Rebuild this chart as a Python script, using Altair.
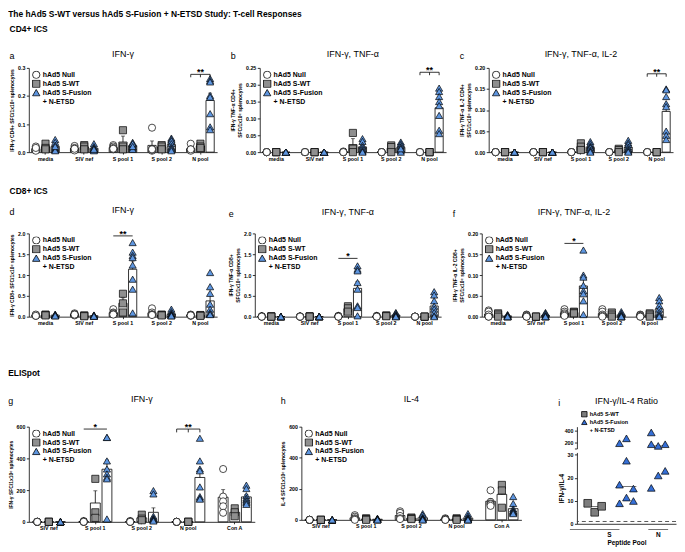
import altair as alt
import pandas as pd

FONT = "Liberation Sans"
MAIN_TITLE = "The hAd5 S-WT versus hAd5 S-Fusion + N-ETSD Study: T-cell Responses"
GROUPS = ["hAd5 Null", "hAd5 S-WT", "hAd5 S-Fusion"]
LEG_DOMAIN = GROUPS + ["+ N-ETSD"]
SHAPES = ["circle", "square", "triangle-up", "circle"]
FILLS = ["#ffffff", "#8f8f8f", "#5e96e0", "transparent"]
STROKES = ["black", "black", "black", "transparent"]
ICS_CATS = ["media", "SIV nef", "S pool 1", "S pool 2", "N pool"]
ELI_CATS = ["SIV nef", "S pool 1", "S pool 2", "N pool", "Con A"]

# ---- a: CD4+ IFN-g ----
a_null = [[0.02, 0.012, 0.008, 0.005, 0.015], [0.022, 0.015, 0.01, 0.006, 0.012],
          [0.025, 0.02, 0.015, 0.01, 0.012], [0.087, 0.01, 0.005, 0.008, 0.01],
          [0.03, 0.01, 0.008, 0.005, 0.01]]
a_wt = [[0.03, 0.015, 0.01], [0.025, 0.02, 0.01], [0.078, 0.02, 0.01], [0.025, 0.02, 0.01], [0.03, 0.02, 0.015]]
a_fus = [[0.045, 0.035, 0.025, 0.015, 0.01, 0.008, 0.005, 0.02],
         [0.03, 0.02, 0.015, 0.01, 0.008, 0.012, 0.005, 0.01],
         [0.035, 0.03, 0.025, 0.02, 0.015, 0.01, 0.03, 0.02],
         [0.05, 0.045, 0.04, 0.03, 0.02, 0.015, 0.01, 0.005],
         [0.262, 0.255, 0.25, 0.202, 0.196, 0.137, 0.09, 0.08]]
# ---- b: CD4+ IFN-g, TNF-a ----
b_null = [[0, 0, 0, 0, 0], [0, 0, 0, 0, 0], [0.002, 0, 0, 0, 0], [0, 0, 0, 0, 0], [0, 0, 0, 0, 0]]
b_wt = [[0, 0, 0], [0, 0, 0], [0.057, 0.01, 0.0], [0.02, 0.015, 0.0], [0, 0, 0]]
b_fus = [[0, 0, 0, 0, 0, 0, 0, 0], [0, 0, 0, 0, 0, 0, 0, 0],
         [0.04, 0.032, 0.02, 0.015, 0.01, 0.005, 0.002, 0.0],
         [0.03, 0.025, 0.02, 0.015, 0.01, 0.005, 0.0, 0.01],
         [0.19, 0.18, 0.165, 0.15, 0.138, 0.109, 0.065, 0.055]]
# ---- c: CD4+ IFN-g, TNF-a, IL-2 ----
c_null = [[0, 0, 0, 0, 0], [0, 0, 0, 0, 0], [0, 0, 0, 0, 0], [0, 0, 0, 0, 0], [0, 0, 0, 0, 0]]
c_wt = [[0, 0, 0], [0, 0, 0], [0.021, 0.013, 0.005], [0.008, 0.005, 0.0], [0, 0, 0]]
c_fus = [[0, 0, 0, 0, 0, 0, 0, 0], [0, 0, 0, 0, 0, 0, 0, 0],
         [0.025, 0.02, 0.015, 0.012, 0.01, 0.005, 0.002, 0.0],
         [0.028, 0.022, 0.018, 0.012, 0.008, 0.005, 0.002, 0.0],
         [0.15, 0.148, 0.132, 0.115, 0.108, 0.05, 0.04, 0.03]]
# ---- d: CD8+ IFN-g ----
d_null = [[0.03, 0.02, 0.04, 0.05, 0.02], [0.08, 0.06, 0.04, 0.03, 0.05], [0.18, 0.1, 0.08, 0.06, 0.05],
          [0.2, 0.1, 0.06, 0.05, 0.04], [0.05, 0.04, 0.03, 0.02, 0.03]]
d_wt = [[0.05, 0.04, 0.03], [0.03, 0.02, 0.01], [0.55, 0.32, 0.1], [0.05, 0.04, 0.03], [0.04, 0.03, 0.02]]
d_fus = [[0.06, 0.05, 0.04, 0.03, 0.02, 0.03, 0.04, 0.02],
         [0.04, 0.03, 0.02, 0.02, 0.01, 0.03, 0.02, 0.01],
         [1.78, 1.55, 1.47, 1.42, 1.24, 0.9, 0.66, 0.09],
         [0.18, 0.12, 0.08, 0.06, 0.04, 0.03, 0.02, 0.02],
         [1.06, 0.72, 0.56, 0.3, 0.18, 0.1, 0.06, 0.05]]
# ---- e: CD8+ IFN-g, TNF-a ----
e_null = [[0.01, 0.01, 0, 0, 0], [0.01, 0, 0, 0, 0], [0.02, 0.01, 0, 0, 0], [0.02, 0.01, 0, 0, 0], [0, 0, 0, 0, 0]]
e_wt = [[0.01, 0, 0], [0.01, 0, 0], [0.25, 0.2, 0.12], [0.03, 0.02, 0.01], [0, 0, 0]]
e_fus = [[0.01, 0, 0, 0, 0, 0, 0, 0], [0.01, 0, 0, 0, 0, 0, 0, 0],
         [1.22, 1.14, 1.1, 0.82, 0.66, 0.26, 0.22, 0.02],
         [0.1, 0.08, 0.05, 0.03, 0.02, 0.01, 0, 0],
         [0.6, 0.52, 0.38, 0.25, 0.18, 0.1, 0.02, 0]]
# ---- f: CD8+ IFN-g, TNF-a, IL-2 ----
f_null = [[0.015, 0.012, 0.005, 0, 0], [0.005, 0.004, 0.002, 0, 0], [0.018, 0.012, 0.008, 0.005, 0.002],
          [0.018, 0.012, 0.005, 0.002, 0], [0.005, 0.004, 0.002, 0, 0]]
f_wt = [[0.008, 0.005, 0], [0, 0, 0], [0.012, 0.01, 0.008], [0.01, 0.005, 0], [0.008, 0.005, 0]]
f_fus = [[0.005, 0.004, 0.003, 0.002, 0, 0, 0, 0], [0.01, 0.008, 0.005, 0.002, 0, 0, 0, 0],
         [0.16, 0.1, 0.095, 0.075, 0.062, 0.055, 0.038, 0.005],
         [0.012, 0.008, 0.005, 0.003, 0, 0, 0, 0],
         [0.046, 0.038, 0.027, 0.018, 0.01, 0.005, 0.002, 0]]
# ---- g: ELISpot IFN-g ----
g_null = [[0, 0, 0, 0, 0], [0, 5, 0, 2, 0], [0, 3, 5, 0, 0], [0, 0, 0, 0, 0], [333, 159, 129, 98, 57]]
g_wt = [[0, 0, 0], [271, 60, 25], [45, 20, 10], [0, 0, 0], [85, 60, 35]]
g_fus = [[0, 0, 0, 0, 0, 0, 0, 0], [532, 532, 384, 333, 302, 281, 271, 18],
         [197, 176, 35, 25, 18, 14, 10, 5], [527, 384, 333, 322, 220, 159, 149, 143],
         [231, 210, 165, 150, 140, 130, 120, 110]]
# ---- h: ELISpot IL-4 ----
h_null = [[0, 0, 0, 0, 0], [30, 20, 10, 5, 0], [55, 45, 25, 10, 5], [10, 5, 5, 0, 0], [190, 115, 105, 100, 90]]
h_wt = [[0, 0, 0], [10, 5, 0], [15, 10, 5], [10, 5, 0], [225, 189, 78]]
h_fus = [[0, 0, 0, 0, 0, 0, 0, 0], [10, 8, 5, 5, 3, 0, 0, 0], [40, 30, 15, 10, 5, 5, 0, 0],
         [40, 25, 15, 10, 5, 0, 0, 0], [150, 105, 70, 60, 55, 50, 45, 40]]
# ---- i: IFN-g / IL-4 ratio ----
I_COLS = ["S-WT S", "Fusion S", "Fusion N"]
i_wt_s = [8.9, 5.0, 7.6]
i_fus_s = [8.9, 11.4, 9.9, 17.0, 27.4, 15.3, 189, 272]
i_fus_n = [172, 144, 172, 15.6, 21, 23, 372]


def key(cat, grp):
    return cat + "|" + grp


def bar_panel(cats, null, wt, fus, ymax, ticks, fmt, ytitle, title, w, h, sigs, title_offset=7):
    rows = []
    for ci, c in enumerate(cats):
        for g, arr in zip(GROUPS, (null, wt, fus)):
            for v in arr[ci]:
                rows.append({"key": key(c, g), "cat": c, "grp": g, "val": v})
    df = pd.DataFrame(rows)
    # band domain: three groups per category, with one empty slot between categories
    domain = []
    for ci, c in enumerate(cats):
        if ci > 0:
            domain.append("gap " + str(ci))
        domain += [key(c, g) for g in GROUPS]
    xenc = alt.X("key:N", title=None,
                 scale=alt.Scale(type="band", domain=domain, paddingInner=0.15, paddingOuter=0.3),
                 axis=alt.Axis(values=[key(c, GROUPS[1]) for c in cats], labelExpr="split(datum.value, '|')[0]",
                               labelAngle=0, tickSize=2, labelPadding=2))
    yscale = alt.Scale(domain=[0, ymax], nice=False)
    yaxis = alt.Axis(values=ticks, format=fmt, title=ytitle)

    def yy(field):
        return alt.Y(field, scale=yscale, axis=yaxis)

    base = alt.Chart(df)
    bars = base.mark_bar(fill="white", stroke="black", strokeWidth=0.8).encode(
        x=xenc, y=yy("mean(val):Q"))
    err = base.transform_aggregate(m="mean(val)", se="stderr(val)", groupby=["key"]).transform_calculate(
        hi="datum.m + datum.se")
    err_rule = err.mark_rule(color="black", strokeWidth=0.8).encode(x=xenc, y=yy("m:Q"), y2="hi:Q")
    err_cap = err.mark_tick(color="black", thickness=0.8, size=4).encode(x=xenc, y=yy("hi:Q"))
    leg = alt.Legend(title=None, orient="top-left", offset=3)
    pts = base.mark_point(filled=True, strokeWidth=0.7, size=52, fillOpacity=1, strokeOpacity=1).encode(
        x=xenc, y=yy("val:Q"),
        shape=alt.Shape("grp:N", scale=alt.Scale(domain=LEG_DOMAIN, range=SHAPES), legend=leg),
        fill=alt.Fill("grp:N", scale=alt.Scale(domain=LEG_DOMAIN, range=FILLS), legend=leg),
        stroke=alt.Stroke("grp:N", scale=alt.Scale(domain=LEG_DOMAIN, range=STROKES), legend=leg))
    layers = [bars, err_rule, err_cap, pts]
    for cat, yv, txt, kind in sigs:
        gs = GROUPS if kind == "bracket" else [GROUPS[0], GROUPS[2]]
        sd = pd.DataFrame({"key": [key(cat, g) for g in gs], "y": [yv] * len(gs),
                           "y2": [yv - ymax * 0.035] * len(gs)})
        layers.append(alt.Chart(sd).mark_line(color="black", strokeWidth=0.8).encode(x=xenc, y=yy("y:Q")))
        if kind == "bracket":
            layers.append(alt.Chart(sd).mark_rule(color="black", strokeWidth=0.8).encode(
                x=xenc, y=yy("y:Q"), y2="y2:Q"))
        td = pd.DataFrame({"key": [key(cat, GROUPS[1])], "y": [yv], "t": [txt]})
        layers.append(alt.Chart(td).mark_text(baseline="alphabetic", dy=1, fontSize=9, fontWeight="bold",
                                              font=FONT, color="black").encode(
            x=xenc, y=yy("y:Q"), text="t:N"))
    return alt.layer(*layers).properties(
        width=w, height=h,
        title=alt.TitleParams(title, fontSize=9, fontWeight="normal", font=FONT, offset=title_offset))


RES = dict(fill="independent", shape="independent", stroke="independent")


def wrap(chart, letter, off=-11):
    return alt.hconcat(chart).properties(
        title=alt.TitleParams(letter, anchor="start", fontSize=9, fontWeight="normal", font=FONT, offset=off)
    ).resolve_scale(**RES)


SFC = "SFC/1x10\u2076 splenocytes"
pa = bar_panel(ICS_CATS, a_null, a_wt, a_fus, 0.3, [0, 0.1, 0.2, 0.3], ".1f",
               "IFN-\u03b3 CD4+ " + SFC, "IFN-\u03b3", 190, 85, [("N pool", 0.277, "**", "bracket")])
pb = bar_panel(ICS_CATS, b_null, b_wt, b_fus, 0.25, [0, 0.05, 0.1, 0.15, 0.2, 0.25], ".2f",
               ["IFN-\u03b3 TNF-\u03b1 CD4+", SFC], "IFN-\u03b3, TNF-\u03b1", 188, 85,
               [("N pool", 0.237, "**", "bracket")])
pc = bar_panel(ICS_CATS, c_null, c_wt, c_fus, 0.2, [0, 0.05, 0.1, 0.15, 0.2], ".2f",
               ["IFN-\u03b3 TNF-\u03b1 IL-2 CD4+", SFC], "IFN-\u03b3, TNF-\u03b1, IL-2", 186, 85,
               [("N pool", 0.186, "**", "bracket")])
pd_ = bar_panel(ICS_CATS, d_null, d_wt, d_fus, 2.0, [0, 0.5, 1, 1.5, 2], ".1f",
                "IFN-\u03b3 CD8+ " + SFC, "IFN-\u03b3", 190, 84, [("S pool 1", 1.94, "**", "line")],
                title_offset=15)
pe = bar_panel(ICS_CATS, e_null, e_wt, e_fus, 2.0, [0, 0.5, 1, 1.5, 2], ".1f",
               ["IFN-\u03b3 TNF-\u03b1 CD8+", SFC], "IFN-\u03b3, TNF-\u03b1", 188, 84,
               [("S pool 1", 1.4, "*", "line")], title_offset=15)
pf = bar_panel(ICS_CATS, f_null, f_wt, f_fus, 0.2, [0, 0.05, 0.1, 0.15, 0.2], ".2f",
               ["IFN-\u03b3 TNF-\u03b1 IL-2 CD8+", SFC], "IFN-\u03b3, TNF-\u03b1, IL-2", 186, 84,
               [("S pool 1", 0.176, "*", "line")], title_offset=15)
pg = bar_panel(ELI_CATS, g_null, g_wt, g_fus, 600, [0, 200, 400, 600], "d",
               "IFN-\u03b3 " + SFC, "IFN-\u03b3", 228, 96,
               [("S pool 1", 585, "*", "line"), ("N pool", 585, "**", "bracket")], title_offset=19)
ph = bar_panel(ELI_CATS, h_null, h_wt, h_fus, 600, [0, 200, 400, 600], "d",
               "IL-4 " + SFC, "IL-4", 222, 94, [], title_offset=21)

# ---- panel i ----
irows = []
for col, grp, arr in ((I_COLS[0], GROUPS[1], i_wt_s), (I_COLS[1], GROUPS[2], i_fus_s),
                      (I_COLS[2], GROUPS[2], i_fus_n)):
    for k, v in enumerate(arr):
        irows.append({"col": col, "grp": grp, "val": v, "k": k})
idf = pd.DataFrame(irows)
I_DOMAIN = [GROUPS[1], GROUPS[2], "+ N-ETSD"]
I_W = 100
ix_scale = alt.Scale(type="band", domain=I_COLS, paddingInner=0.08, paddingOuter=0.1)
ixo = alt.XOffset("lane:O", scale=alt.Scale(type="band", domain=[0, 1, 2], paddingOuter=0.6))
ileg = alt.Legend(title=None, orient="none", legendX=4, legendY=-16, symbolSize=30, labelFontSize=5.5,
                  rowPadding=1, clipHeight=7)


def i_channels(legend):
    return dict(
        shape=alt.Shape("grp:N", scale=alt.Scale(domain=I_DOMAIN, range=["square", "triangle-up", "circle"]),
                        legend=legend),
        fill=alt.Fill("grp:N", scale=alt.Scale(domain=I_DOMAIN, range=["#7d7d7d", "#356fd6", "transparent"]),
                      legend=legend),
        stroke=alt.Stroke("grp:N", scale=alt.Scale(domain=I_DOMAIN, range=["black", "black", "transparent"]),
                          legend=legend))


top_y = alt.Scale(domain=[100, 470], nice=False, zero=False)
top_ax = alt.Axis(values=[100, 200, 400], labelExpr="datum.value == 100 ? '' : datum.label", title=None)
tx = alt.X("col:N", scale=ix_scale, axis=None)
ibase = alt.Chart(idf).transform_calculate(lane="datum.k % 3")
imed = alt.Chart(idf).transform_aggregate(med="median(val)", groupby=["col"])
top_pts = ibase.transform_filter("datum.val >= 100").mark_point(
    filled=True, strokeWidth=0.7, size=60, fillOpacity=1).encode(
    x=tx, xOffset=ixo, y=alt.Y("val:Q", scale=top_y, axis=top_ax), **i_channels(ileg))
top_med = imed.transform_filter("datum.med >= 100").mark_tick(color="black", thickness=0.8, size=20).encode(
    x=tx, y=alt.Y("med:Q", scale=top_y, axis=top_ax))
itop = alt.layer(top_med, top_pts).properties(
    width=I_W, height=22,
    title=alt.TitleParams("IFN-\u03b3/IL-4 Ratio", fontSize=9, fontWeight="normal", font=FONT, offset=5))

bot_y = alt.Scale(domain=[0, 31], nice=False)
bot_ax = alt.Axis(values=[0, 10, 20, 30], title="IFN-\u03b3/IL-4", titleFontSize=6.5)
bx_axis = alt.Axis(labels=False, ticks=False, title="Peptide Pool", titleFontSize=6.5, titlePadding=16)
bx = alt.X("col:N", scale=ix_scale, axis=bx_axis)
bx_mid = alt.X("col:N", scale=ix_scale, axis=bx_axis, bandPosition=1)
bot_pts = ibase.transform_filter("datum.val <= 31").mark_point(
    filled=True, strokeWidth=0.7, size=60, fillOpacity=1).encode(
    x=bx, xOffset=ixo, y=alt.Y("val:Q", scale=bot_y, axis=bot_ax), **i_channels(None))
bot_med = imed.transform_filter("datum.med <= 31").mark_tick(color="black", thickness=0.8, size=20).encode(
    x=bx, y=alt.Y("med:Q", scale=bot_y, axis=bot_ax))
ref_line = alt.Chart(pd.DataFrame({"r": [1]})).mark_rule(color="#444", strokeDash=[4, 3], strokeWidth=0.9).encode(
    y=alt.Y("r:Q", scale=bot_y, axis=bot_ax))
pool_lab = pd.DataFrame({"col": [I_COLS[0], I_COLS[2]], "t": ["S", "N"], "y": [-2.5, -2.5], "ty": [-3.4, -3.4]})
s_br = alt.Chart(pool_lab.iloc[[0]]).mark_tick(color="black", thickness=0.8, size=50).encode(
    x=bx_mid, y=alt.Y("y:Q", scale=bot_y, axis=bot_ax))
n_br = alt.Chart(pool_lab.iloc[[1]]).mark_tick(color="black", thickness=0.8, size=20).encode(
    x=bx, y=alt.Y("y:Q", scale=bot_y, axis=bot_ax))
s_tx = alt.Chart(pool_lab.iloc[[0]]).mark_text(baseline="top", fontSize=6.5, fontWeight="bold", font=FONT).encode(
    x=bx_mid, y=alt.Y("ty:Q", scale=bot_y, axis=bot_ax), text="t:N")
n_tx = alt.Chart(pool_lab.iloc[[1]]).mark_text(baseline="top", fontSize=6.5, fontWeight="bold", font=FONT).encode(
    x=bx, y=alt.Y("ty:Q", scale=bot_y, axis=bot_ax), text="t:N")
ibot = alt.layer(ref_line, bot_med, bot_pts, s_br, n_br, s_tx, n_tx).properties(width=I_W, height=72)
pi = alt.vconcat(itop, ibot, spacing=4, bounds="flush").resolve_scale(**RES)


def row(charts, title, spacing, off=9):
    return alt.hconcat(*charts, spacing=spacing).properties(
        title=alt.TitleParams(title, anchor="start", fontSize=8.5, fontWeight="bold", font=FONT, offset=off)
    ).resolve_scale(**RES)


row1 = row([wrap(pa, "a"), wrap(pb, "b"), wrap(pc, "c")], "CD4+ ICS", 13, off=17)
row2 = row([wrap(pd_, "d"), wrap(pe, "e"), wrap(pf, "f")], "CD8+ ICS", 11, off=11)
gh = alt.hconcat(wrap(pg, "g"), wrap(ph, "h"), spacing=26).resolve_scale(**RES)
row3 = row([gh, wrap(pi, "i")], "ELISpot", 37, off=18)

chart = alt.vconcat(
    alt.vconcat(row1, row2, spacing=25).resolve_scale(**RES), row3, spacing=42
).resolve_scale(**RES).properties(
    title=alt.TitleParams(MAIN_TITLE, anchor="start", fontSize=8.5, fontWeight="bold", font=FONT, offset=6),
    padding=0
).configure_view(stroke=None).configure_axis(
    labelFont=FONT, titleFont=FONT, labelFontSize=5.3, labelFontWeight="bold", titleFontSize=5,
    titleFontWeight="bold", labelColor="black", titleColor="black", domainColor="black", tickColor="black",
    domainWidth=0.8, tickWidth=0.8, tickSize=2.5, grid=False, labelPadding=1.5, titlePadding=3
).configure_legend(
    labelFont=FONT, labelFontSize=7, labelFontWeight="bold", labelColor="black",
    symbolStrokeWidth=0.8, symbolSize=55, rowPadding=1, clipHeight=8, padding=0, labelOffset=2, labelLimit=200
).configure_title(font=FONT, color="black")

chart.save("out.html", embed_options={"renderer": "svg", "actions": False})
